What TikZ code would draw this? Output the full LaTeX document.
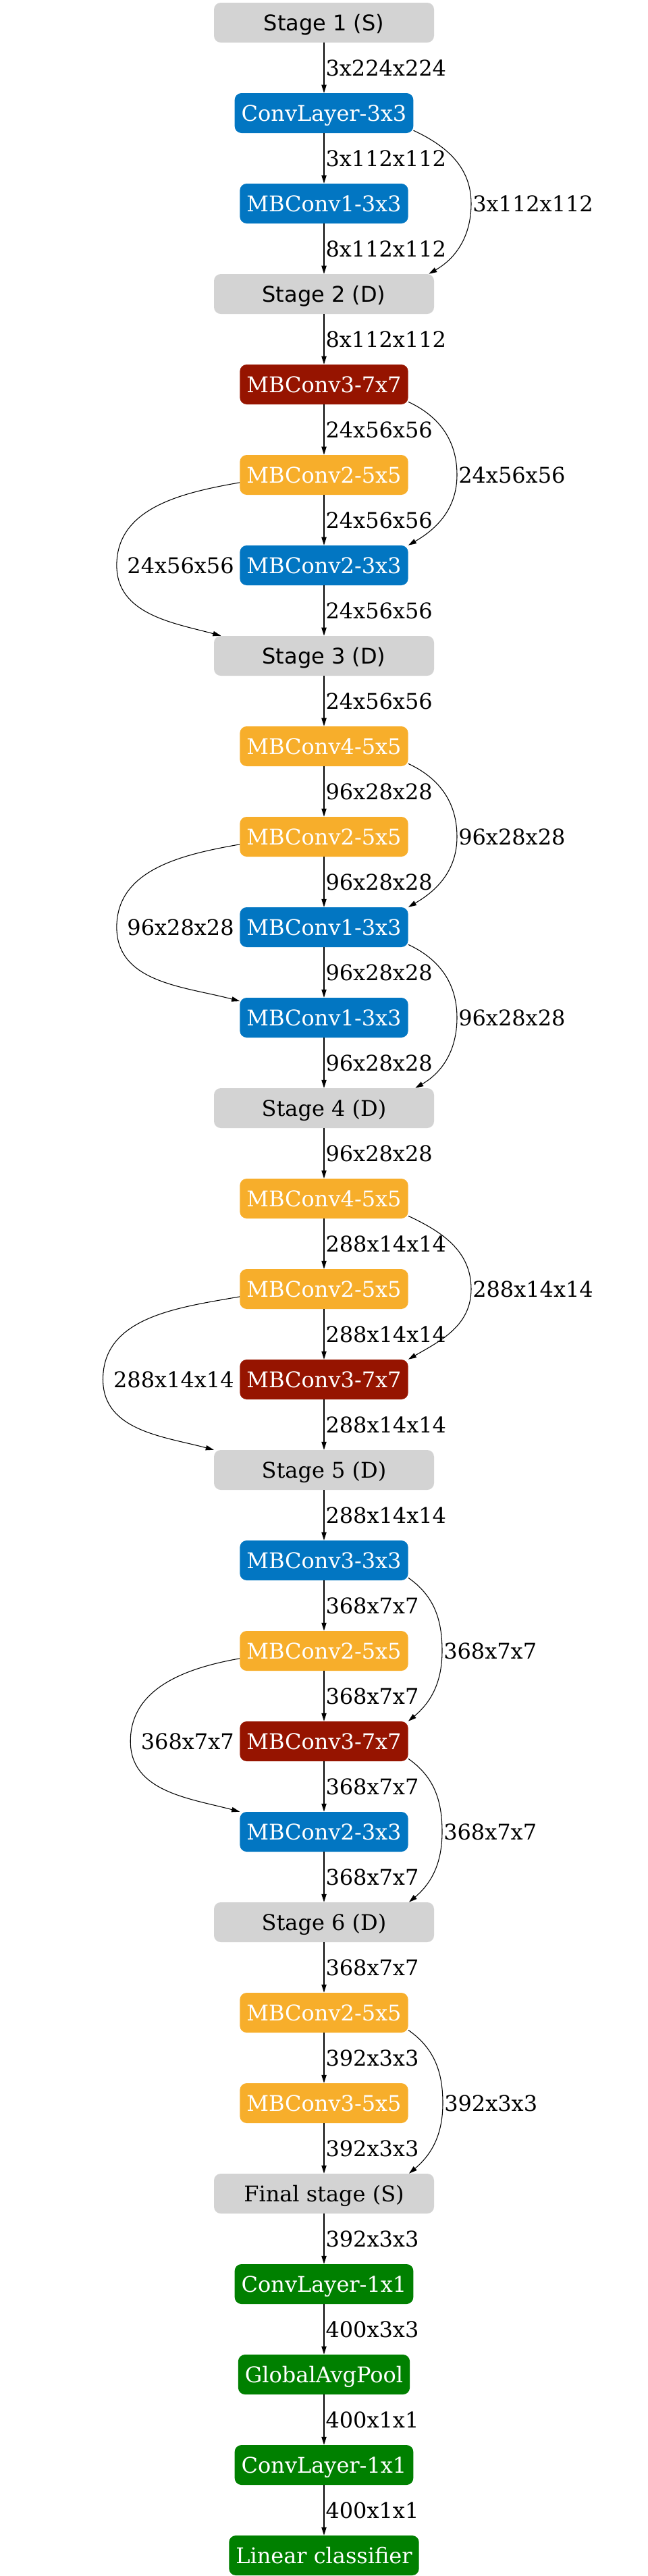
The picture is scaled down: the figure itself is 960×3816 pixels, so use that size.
\documentclass[tikz,border=0pt]{standalone}
\usepackage{fontspec}
\setmainfont{DejaVu Serif}
\newfontfamily\stagesans{DejaVu Sans}
\usepackage{tikz}
\usetikzlibrary{arrows.meta, positioning}
\definecolor{stagegray}{RGB}{211,211,211}
\definecolor{convblue}{RGB}{2,118,194}
\definecolor{convred}{RGB}{150,20,0}
\definecolor{convorange}{RGB}{247,174,43}
\definecolor{headgreen}{RGB}{0,128,0}
\newcommand{\netfont}{\fontsize{24pt}{29pt}\selectfont}
\tikzstyle{block} = [rectangle, rounded corners=7.5pt, minimum height=44.25pt, inner xsep=7.5pt, inner ysep=0pt, text height=17.4pt, text depth=0pt, font=\netfont, text=white]
\tikzstyle{stage} = [block, fill=stagegray, text=black, minimum width=244.5pt]
\tikzstyle{mbblue} = [block, fill=convblue]
\tikzstyle{mbred} = [block, fill=convred]
\tikzstyle{mborange} = [block, fill=convorange]
\tikzstyle{headbox} = [block, fill=headgreen]
\tikzstyle{dims} = [font=\netfont, inner sep=1.5pt, right]
\tikzstyle{arrow} = [line width=0.8pt, ->, >={Triangle[length=9pt, width=5.5pt]}]

\begin{document}
\begin{tikzpicture}[x=0.75pt, y=0.75pt]
  \useasboundingbox (0,0) rectangle (960,-3816);

  % Stage 1 and 2
  \node[stage] (s1) at (480,-33.5) {\stagesans Stage 1 (S)};
  \node[mbblue] (c1) at (480,-167.5) {ConvLayer-3x3};
  \node[mbblue] (m1) at (480,-301.5) {MBConv1-3x3};
  \node[stage] (s2) at (480,-435.5) {\stagesans Stage 2 (D)};
  \node[mbred] (m2) at (480,-569.5) {MBConv3-7x7};
  \node[mborange] (m3) at (480,-703.5) {MBConv2-5x5};
  \node[mbblue] (m4) at (480,-837.5) {MBConv2-3x3};

  % Stage 3
  \node[stage] (s3) at (480,-971.5) {\stagesans Stage 3 (D)};
  \node[mborange] (m5) at (480,-1105.5) {MBConv4-5x5};
  \node[mborange] (m6) at (480,-1239.5) {MBConv2-5x5};
  \node[mbblue] (m7) at (480,-1373.5) {MBConv1-3x3};
  \node[mbblue] (m8) at (480,-1507.5) {MBConv1-3x3};

  % Stage 4
  \node[stage] (s4) at (480,-1641.5) {Stage 4 (D)};
  \node[mborange] (m9) at (480,-1775.5) {MBConv4-5x5};
  \node[mborange] (m10) at (480,-1909.5) {MBConv2-5x5};
  \node[mbred] (m11) at (480,-2043.5) {MBConv3-7x7};

  % Stage 5
  \node[stage] (s5) at (480,-2177.5) {Stage 5 (D)};
  \node[mbblue] (m12) at (480,-2311.5) {MBConv3-3x3};
  \node[mborange] (m13) at (480,-2445.5) {MBConv2-5x5};
  \node[mbred] (m14) at (480,-2579.5) {MBConv3-7x7};
  \node[mbblue] (m15) at (480,-2713.5) {MBConv2-3x3};

  % Stage 6
  \node[stage] (s6) at (480,-2847.5) {Stage 6 (D)};
  \node[mborange] (m16) at (480,-2981.5) {MBConv2-5x5};
  \node[mborange] (m17) at (480,-3115.5) {MBConv3-5x5};

  % Final stage
  \node[stage] (sf) at (480,-3249.5) {Final stage (S)};
  \node[headbox] (h1) at (480,-3383.5) {ConvLayer-1x1};
  \node[headbox] (h2) at (480,-3517.5) {GlobalAvgPool};
  \node[headbox] (h3) at (480,-3651.5) {ConvLayer-1x1};
  \node[headbox] (h4) at (480,-3785.5) {Linear classifier};

  % main path
  \draw[arrow] (s1) -- node[dims] {3x224x224} (c1);
  \draw[arrow] (c1) -- node[dims] {3x112x112} (m1);
  \draw[arrow] (m1) -- node[dims] {8x112x112} (s2);
  \draw[arrow] (s2) -- node[dims] {8x112x112} (m2);
  \draw[arrow] (m2) -- node[dims] {24x56x56} (m3);
  \draw[arrow] (m3) -- node[dims] {24x56x56} (m4);
  \draw[arrow] (m4) -- node[dims] {24x56x56} (s3);
  \draw[arrow] (s3) -- node[dims] {24x56x56} (m5);
  \draw[arrow] (m5) -- node[dims] {96x28x28} (m6);
  \draw[arrow] (m6) -- node[dims] {96x28x28} (m7);
  \draw[arrow] (m7) -- node[dims] {96x28x28} (m8);
  \draw[arrow] (m8) -- node[dims] {96x28x28} (s4);
  \draw[arrow] (s4) -- node[dims] {96x28x28} (m9);
  \draw[arrow] (m9) -- node[dims] {288x14x14} (m10);
  \draw[arrow] (m10) -- node[dims] {288x14x14} (m11);
  \draw[arrow] (m11) -- node[dims] {288x14x14} (s5);
  \draw[arrow] (s5) -- node[dims] {288x14x14} (m12);
  \draw[arrow] (m12) -- node[dims] {368x7x7} (m13);
  \draw[arrow] (m13) -- node[dims] {368x7x7} (m14);
  \draw[arrow] (m14) -- node[dims] {368x7x7} (m15);
  \draw[arrow] (m15) -- node[dims] {368x7x7} (s6);
  \draw[arrow] (s6) -- node[dims] {368x7x7} (m16);
  \draw[arrow] (m16) -- node[dims] {392x3x3} (m17);
  \draw[arrow] (m17) -- node[dims] {392x3x3} (sf);
  \draw[arrow] (sf) -- node[dims] {392x3x3} (h1);
  \draw[arrow] (h1) -- node[dims] {400x3x3} (h2);
  \draw[arrow] (h2) -- node[dims] {400x1x1} (h3);
  \draw[arrow] (h3) -- node[dims] {400x1x1} (h4);

  % skip labels
  \node[dims] (k1) at (698,-301.5) {3x112x112};
  \node[dims] (k2) at (677,-703.5) {24x56x56};
  \node[dims, anchor=east] (k3) at (349,-837.5) {24x56x56};
  \node[dims] (k4) at (677,-1239.5) {96x28x28};
  \node[dims, anchor=east] (k5) at (349,-1373.5) {96x28x28};
  \node[dims] (k6) at (677,-1507.5) {96x28x28};
  \node[dims] (k7) at (698,-1909.5) {288x14x14};
  \node[dims, anchor=east] (k8) at (349,-2043.5) {288x14x14};
  \node[dims] (k9) at (655,-2445.5) {368x7x7};
  \node[dims, anchor=east] (k10) at (349,-2579.5) {368x7x7};
  \node[dims] (k11) at (655,-2713.5) {368x7x7};
  \node[dims] (k12) at (656,-3115.5) {392x3x3};

  % skip connections
  \draw[arrow] ([yshift=3pt]c1.south east) to[out=-25,in=90] (k1.west) to[out=-90,in=30] ([xshift=-6pt]s2.north east);
  \draw[arrow] ([yshift=3pt]m2.south east) to[out=-25,in=90] (k2.west) to[out=-90,in=30] (m4.north east);
  \draw[arrow] ([yshift=-8.5pt]m3.west) to[out=190,in=90] ([xshift=-10pt]k3.west) to[out=-90,in=165] ([xshift=8pt]s3.north west);
  \draw[arrow] ([yshift=3pt]m5.south east) to[out=-25,in=90] (k4.west) to[out=-90,in=30] (m7.north east);
  \draw[arrow] ([yshift=-8.5pt]m6.west) to[out=190,in=90] ([xshift=-10pt]k5.west) to[out=-90,in=165] ([yshift=-4pt]m8.north west);
  \draw[arrow] ([yshift=3pt]m7.south east) to[out=-25,in=90] (k6.west) to[out=-90,in=30] ([xshift=-21pt]s4.north east);
  \draw[arrow] ([yshift=3pt]m9.south east) to[out=-25,in=90] (k7.west) to[out=-90,in=30] (m11.north east);
  \draw[arrow] ([yshift=-8.5pt]m10.west) to[out=190,in=90] ([xshift=-10pt]k8.west) to[out=-90,in=165] (s5.north west);
  \draw[arrow] ([yshift=3pt]m12.south east) to[out=-35,in=90] (k9.west) to[out=-90,in=40] (m14.north east);
  \draw[arrow] ([yshift=-8.5pt]m13.west) to[out=190,in=90] ([xshift=-10pt]k10.west) to[out=-90,in=165] (m15.north west);
  \draw[arrow] ([yshift=3pt]m14.south east) to[out=-35,in=90] (k11.west) to[out=-90,in=40] ([xshift=-28pt]s6.north east);
  \draw[arrow] ([yshift=3pt]m16.south east) to[out=-35,in=90] (k12.west) to[out=-90,in=40] ([xshift=-28pt]sf.north east);
\end{tikzpicture}
\end{document}
